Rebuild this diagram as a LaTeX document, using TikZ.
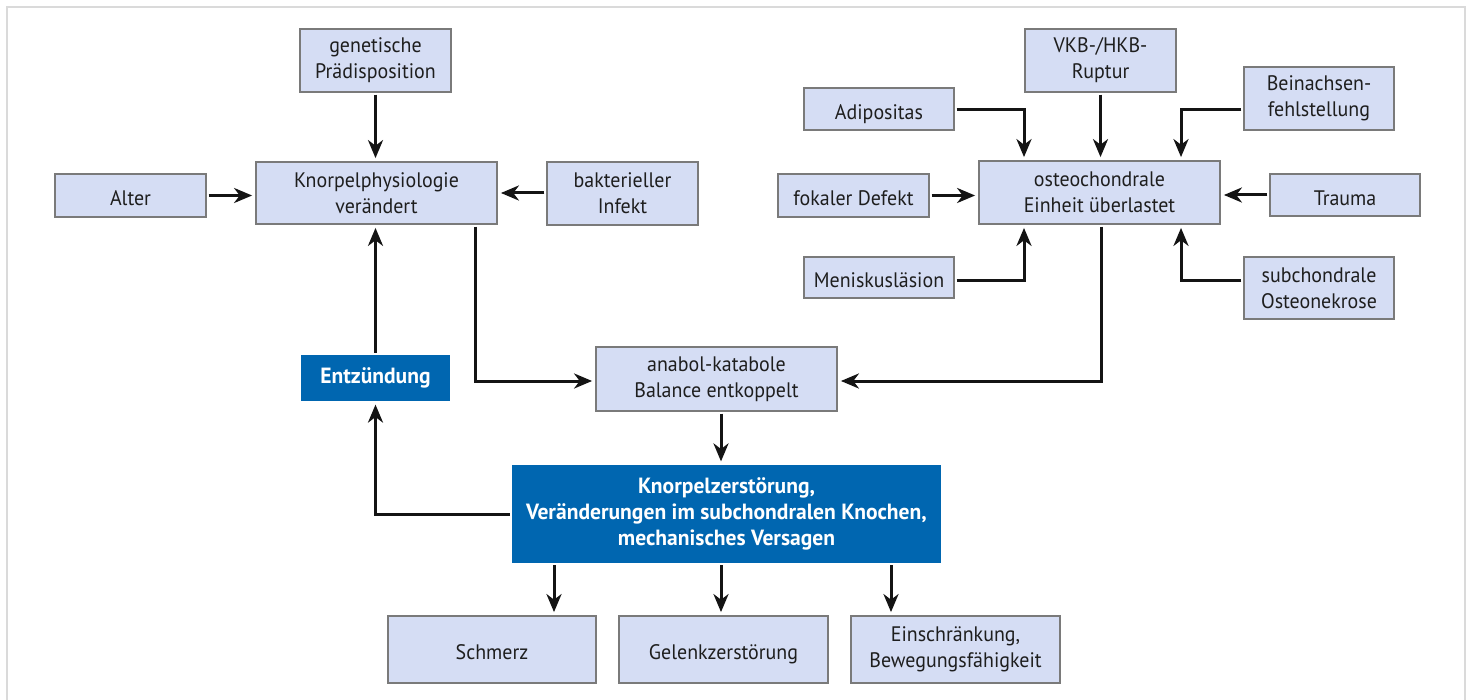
\documentclass[tikz,border=0pt]{standalone}
\usepackage{fontspec}
\setmainfont{PT Sans}[FakeStretch=0.95, BoldFeatures={FakeStretch=0.98}]
\usetikzlibrary{arrows.meta}
\definecolor{lightfill}{HTML}{D5DDF4}
\definecolor{boxline}{HTML}{7A7A7A}
\definecolor{darkfill}{HTML}{0066B0}
\definecolor{framegray}{HTML}{DADADA}
\definecolor{txt}{HTML}{1E1E1E}
\definecolor{arrcol}{HTML}{141414}
\tikzset{
  sz/.style 2 args={minimum width=#1*0.5pt, minimum height=#2*0.5pt},
  lbox/.style={draw=boxline, line width=0.7pt, fill=lightfill, text=txt, inner sep=0pt,
    align=center, font=\fontsize{10.5}{13}\selectfont},
  oneline/.style={text height=10.2pt, text depth=0pt},
  dbox/.style={fill=darkfill, text=white, inner sep=0pt,
    align=center, font=\fontsize{11}{13}\selectfont\bfseries},
  arr/.style={draw=arrcol, line width=1.5pt, -{Stealth[length=9pt,width=7.5pt,inset=2.8pt]},
    shorten >=1.6pt, shorten <=1pt},
}
\begin{document}
\begin{tikzpicture}[x=0.5pt,y=-0.5pt]
\useasboundingbox (0,0) rectangle (1466,700);
\draw[framegray, line width=1pt] (6.5,700) -- (6.5,7.5) -- (1465,7.5) -- (1465,700);
% left cluster
\node[lbox, sz={151}{63}] (gen) at (375.5,60.5) {genetische\\Prädisposition};
\node[lbox, oneline, sz={151}{43}] (alter) at (130.5,195.5) {Alter};
\node[lbox, sz={241}{62}] (knorp) at (376.5,193) {Knorpelphysiologie\\verändert};
\node[lbox, sz={151}{63}] (bakt) at (622.5,193.5) {bakterieller\\Infekt};
\node[dbox, sz={149}{46}] (entz) at (375.5,378) {Entzündung};
\node[lbox, sz={241}{64}] (anabol) at (716.5,379) {anabol-katabole\\Balance entkoppelt};
\node[dbox, sz={429}{98}] (kz) at (726.5,514) {Knorpelzerstörung,\\Veränderungen im subchondralen Knochen,\\mechanisches Versagen};
\node[lbox, oneline, sz={208}{67}] (schmerz) at (492,649.5) {Schmerz};
\node[lbox, oneline, sz={209}{67}] (gelenk) at (723.5,649.5) {Gelenkzerstörung};
\node[lbox, sz={209}{67}] (einschr) at (955.5,649.5) {Einschränkung,\\Bewegungsfähigkeit};
% right cluster
\node[lbox, sz={151}{63}] (vkb) at (1100.5,60.5) {VKB-/HKB-\\Ruptur};
\node[lbox, oneline, sz={150}{42}] (adip) at (879,109) {Adipositas};
\node[lbox, sz={150}{63}] (bein) at (1319,98.5) {Beinachsen-\\fehlstellung};
\node[lbox, oneline, sz={151}{43}] (fokal) at (853.5,195.5) {fokaler Defekt};
\node[lbox, sz={241}{63}] (osteo) at (1099.5,192.5) {osteochondrale\\Einheit überlastet};
\node[lbox, oneline, sz={150}{42}] (trauma) at (1345,195) {Trauma};
\node[lbox, oneline, sz={150}{41}] (menisk) at (879,277.5) {Meniskusläsion};
\node[lbox, sz={150}{62}] (subch) at (1319,288) {subchondrale\\Osteonekrose};
% helper coordinates
\coordinate (kx) at (475,381);
\coordinate (ox) at (1101,381);
\coordinate (mx) at (721,0);
\coordinate (b1) at (554,0);
\coordinate (b3) at (891,0);
\coordinate (ax) at (1024,110);
\coordinate (bx) at (1181,110);
\coordinate (ay) at (1024,280);
\coordinate (by) at (1181,280);
% left connectors
\draw[arr] (gen.south) -- (gen.south |- knorp.north);
\draw[arr] (alter.east) -- (alter.east -| knorp.west);
\draw[arr] (bakt.west |- knorp.east) -- (knorp.east);
\draw[arr] (entz.north) -- (entz.north |- knorp.south);
\draw[arr] (kx |- knorp.south) -- (kx) -- (kx -| anabol.west);
\draw[arr] (ox |- osteo.south) -- (ox) -- (ox -| anabol.east);
\draw[arr] (mx |- anabol.south) -- (mx |- kz.north);
\draw[arr] (kz.west) -| (entz.south);
\draw[arr] (b1 |- kz.south) -- (b1 |- schmerz.north);
\draw[arr] (mx |- kz.south) -- (mx |- gelenk.north);
\draw[arr] (b3 |- kz.south) -- (b3 |- einschr.north);
% right connectors
\draw[arr] (adip.east |- ax) -- (ax) -- (ax |- osteo.north);
\draw[arr] (vkb.south) -- (vkb.south |- osteo.north);
\draw[arr] (bein.west |- bx) -- (bx) -- (bx |- osteo.north);
\draw[arr] (fokal.east) -- (fokal.east -| osteo.west);
\draw[arr] (trauma.west) -- (trauma.west -| osteo.east);
\draw[arr] (menisk.east |- ay) -- (ay) -- (ay |- osteo.south);
\draw[arr] (subch.west |- by) -- (by) -- (by |- osteo.south);
\end{tikzpicture}
\end{document}
